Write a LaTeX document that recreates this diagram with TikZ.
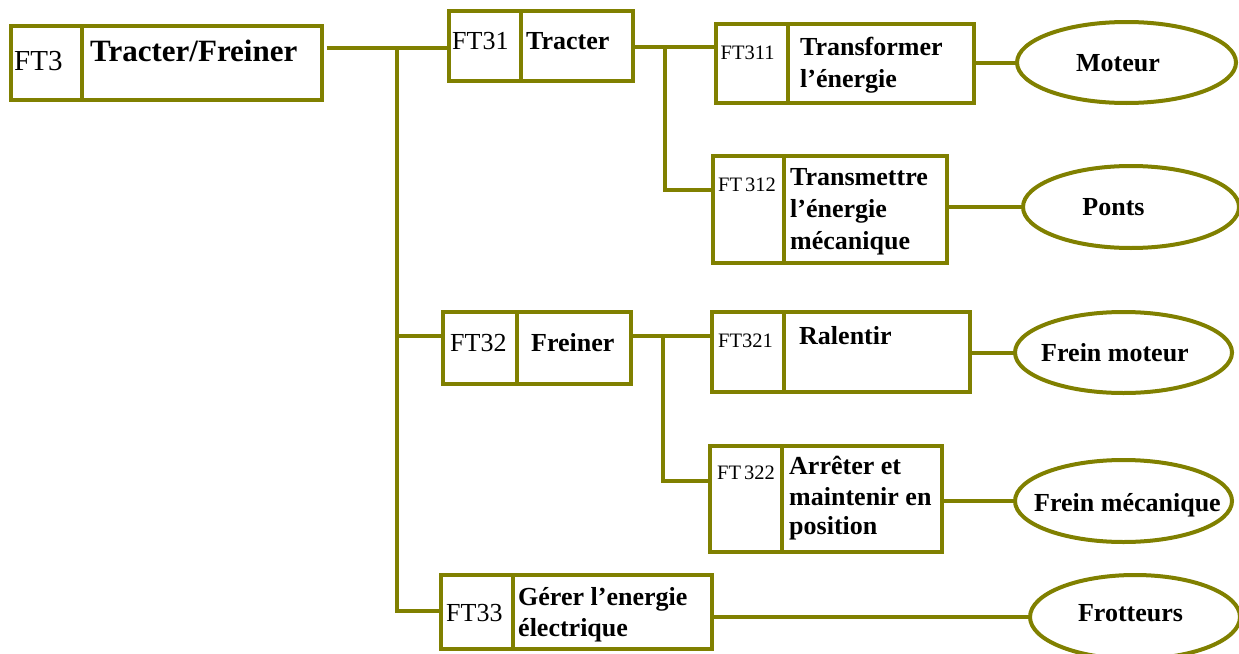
\documentclass[tikz,border=0pt]{standalone}
\usepackage{fontspec}
\setmainfont{Liberation Serif}
\usetikzlibrary{shapes.geometric}
\definecolor{linecol}{RGB}{128,128,0}
\begin{document}
\begin{tikzpicture}[x=1pt, y=-1pt,
  frame/.style={draw=linecol, line width=4pt, rectangle, inner sep=0pt, outer sep=0pt},
  oval/.style={draw=linecol, line width=4pt, ellipse, inner sep=0pt, outer sep=0pt},
  wire/.style={draw=linecol, line width=4pt},
  txt/.style={inner sep=0pt, anchor=base west},
  idtop/.style={txt, font=\fontsize{29}{34}\selectfont},
  idmid/.style={txt, font=\fontsize{26}{31}\selectfont},
  idlow/.style={txt, font=\fontsize{20.5}{24}\selectfont},
  fntop/.style={txt, font=\fontsize{31}{36}\selectfont\bfseries},
  fn/.style={txt, font=\fontsize{26}{31}\selectfont\bfseries},
  ovtxt/.style={inner sep=0pt, anchor=base, font=\fontsize{26}{31}\selectfont\bfseries}
]
\useasboundingbox (0,0) rectangle (1239,653);

% function boxes (code cell | name cell)
\node[frame, minimum width=310.5pt, minimum height=74pt] (ft3)   at (166.25,62.5) {};
\node[frame, minimum width=184pt,   minimum height=70pt] (ft31)  at (541,46) {};
\node[frame, minimum width=258.5pt, minimum height=79.5pt] (ft311) at (844.75,63.25) {};
\node[frame, minimum width=234pt,   minimum height=107pt] (ft312) at (830,209.5) {};
\node[frame, minimum width=188pt,   minimum height=72pt] (ft32)  at (537,348) {};
\node[frame, minimum width=258pt,   minimum height=80pt] (ft321) at (841,352) {};
\node[frame, minimum width=232pt,   minimum height=106pt] (ft322) at (826,499) {};
\node[frame, minimum width=271pt,   minimum height=74pt] (ft33)  at (576.5,612) {};

% cell dividers
\draw[wire] (ft3.north -| 81.7,0)  -- (ft3.south -| 81.7,0);
\draw[wire] (ft31.north -| 520.5,0) -- (ft31.south -| 520.5,0);
\draw[wire] (ft311.north -| 788,0) -- (ft311.south -| 788,0);
\draw[wire] (ft312.north -| 784,0) -- (ft312.south -| 784,0);
\draw[wire] (ft32.north -| 517,0)  -- (ft32.south -| 517,0);
\draw[wire] (ft321.north -| 784,0) -- (ft321.south -| 784,0);
\draw[wire] (ft322.north -| 782,0) -- (ft322.south -| 782,0);
\draw[wire] (ft33.north -| 513,0)  -- (ft33.south -| 513,0);

% technical solutions
\node[oval, minimum width=219pt, minimum height=81pt] (moteur)   at (1126.5,62.5) {};
\node[oval, minimum width=216pt, minimum height=82pt] (ponts)    at (1131,207) {};
\node[oval, minimum width=217pt, minimum height=81pt] (freinmot) at (1123.5,352.5) {};
\node[oval, minimum width=217pt, minimum height=82pt] (freinmec) at (1123.5,501) {};
\node[oval, minimum width=210pt, minimum height=84pt] (frot)     at (1135,617) {};

% labels
\node[idtop] (l3)   at (14,70) {FT3};
\node[fntop] (n3)   at (90,61) {Tracter/Freiner};
\node[idmid] (l31)  at (452,49) {FT31};
\node[fn]    (n31)  at (526,49) {Tracter};
\node[idlow] (l311) at (720.5,59) {FT311};
\node[fn]    (n311a) at (800,55) {Transformer};
\node[fn]    (n311b) at (800,87) {l’énergie};
\node[idlow] (l312) at (718,191) {FT\kern3pt312};
\node[fn]    (n312a) at (790,185) {Transmettre};
\node[fn]    (n312b) at (790,217) {l’énergie};
\node[fn]    (n312c) at (790,249) {mécanique};
\node[idmid] (l32)  at (450,351) {FT32};
\node[fn]    (n32)  at (531,351) {Freiner};
\node[idlow] (l321) at (718,347) {FT321};
\node[fn]    (n321) at (799,344) {Ralentir};
\node[idlow] (l322) at (717,479) {FT\kern3pt322};
\node[fn]    (n322a) at (789,474) {Arrêter et};
\node[fn]    (n322b) at (789,505) {maintenir en};
\node[fn]    (n322c) at (789,534) {position};
\node[idmid] (l33)  at (446,621) {FT33};
\node[fn]    (n33a) at (518,605) {Gérer l’energie};
\node[fn]    (n33b) at (518,636) {électrique};

\node[ovtxt] (tmoteur)   at (1118,71) {Moteur};
\node[ovtxt] (tponts)    at (1113.5,215) {Ponts};
\node[ovtxt] (tfreinmot) at (1115,361) {Frein moteur};
\node[ovtxt] (tfreinmec) at (1127.5,511) {Frein mécanique};
\node[ovtxt] (tfrot)     at (1130.5,621) {Frotteurs};

% junction points of the tree
\coordinate (j0) at (397,47.5);
\coordinate (j2) at (397,336);
\coordinate (j3) at (397,611);
\coordinate (k1) at (665,46.7);
\coordinate (k2) at (665,190);
\coordinate (k3) at (663,336);
\coordinate (k4) at (663,481);

% connectors
\draw[wire, shorten <=5pt] (ft3.east |- j0) -- (ft31.west |- j0);
\draw[wire] (j0) -- (j3) -- (ft33.west |- j3);
\draw[wire] (j2) -- (ft32.west |- j2);
\draw[wire] (ft31.east |- k1) -- (ft311.west |- k1);
\draw[wire] (k1) -- (k2) -- (ft312.west |- k2);
\draw[wire] (ft32.east |- k3) -- (ft321.west |- k3);
\draw[wire] (k3) -- (k4) -- (ft322.west |- k4);
\draw[wire] (ft311.east |- moteur.west) -- (moteur.west);
\draw[wire] (ft312.east |- ponts.west) -- (ponts.west);
\draw[wire] (ft321.east |- freinmot.west) -- (freinmot.west);
\draw[wire] (ft322.east |- freinmec.west) -- (freinmec.west);
\draw[wire] (ft33.east |- frot.west) -- (frot.west);
\end{tikzpicture}
\end{document}
